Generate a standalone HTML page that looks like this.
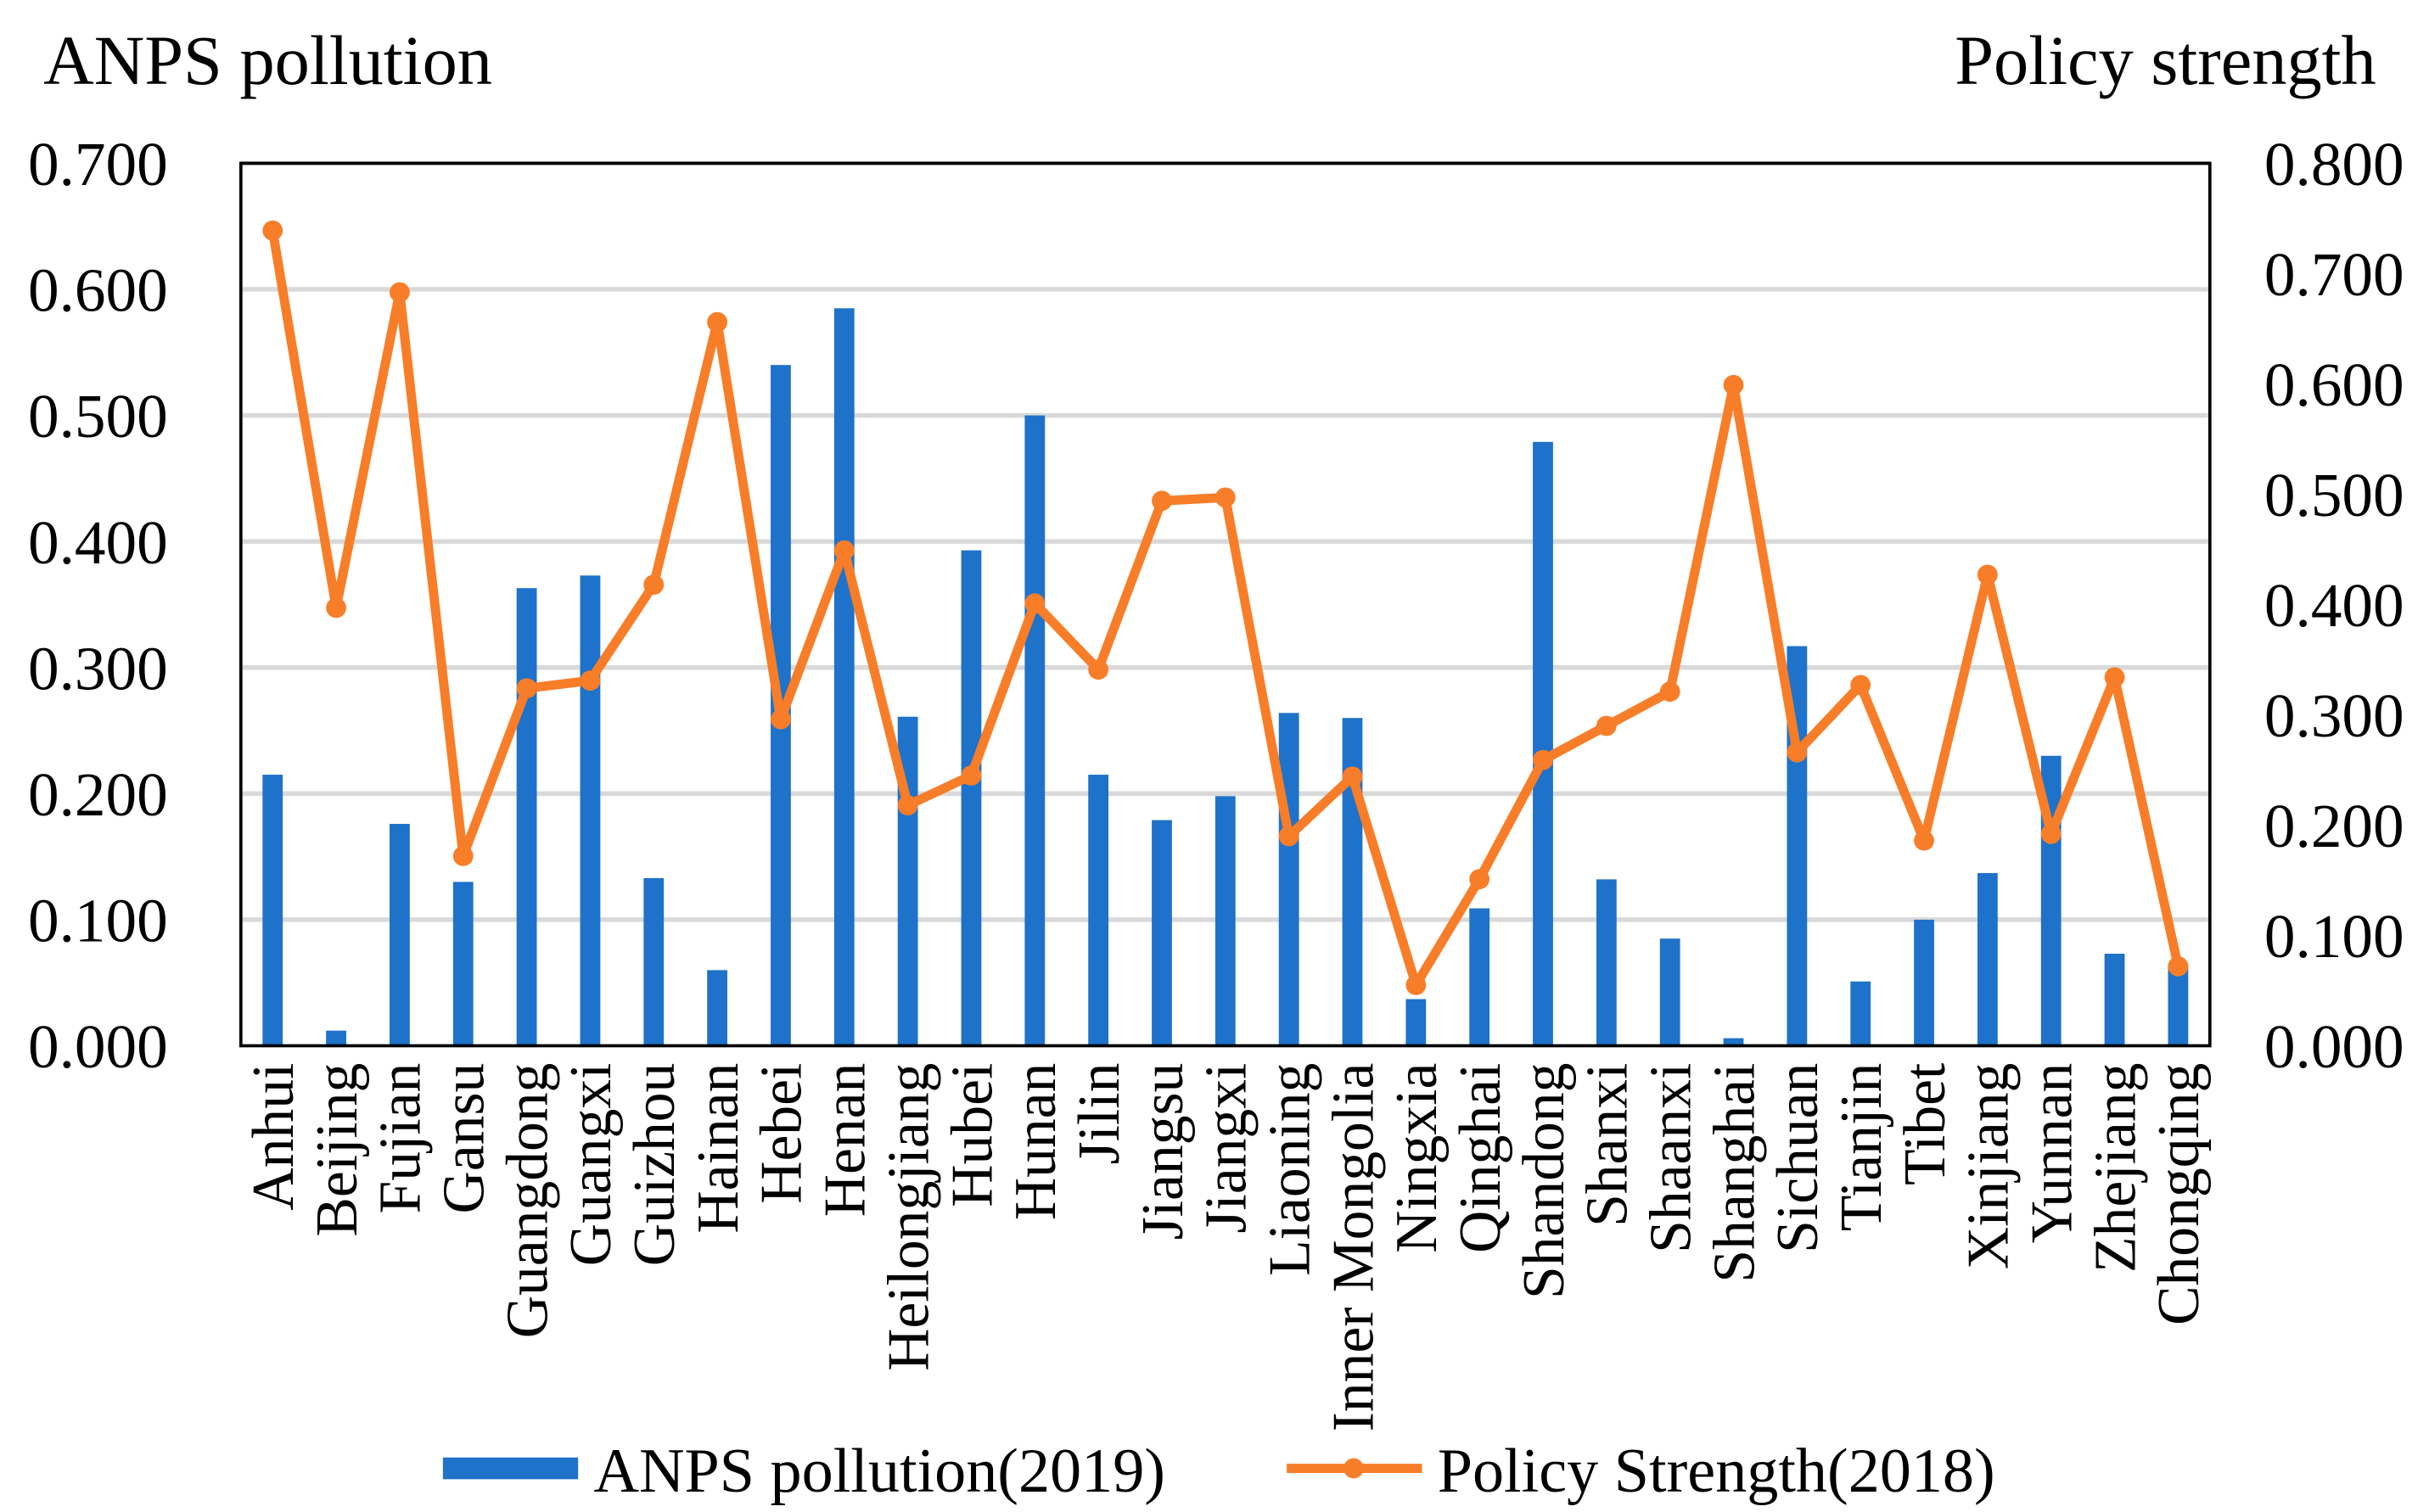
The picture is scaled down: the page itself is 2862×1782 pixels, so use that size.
<!DOCTYPE html>
<html><head><meta charset="utf-8"><style>body{margin:0;background:#fff}svg{display:block}text{font-family:"Liberation Serif",serif;fill:#000}</style></head>
<body>
<svg id="c" width="2862" height="1782" viewBox="0 0 1563 973" xmlns="http://www.w3.org/2000/svg">
<text x="28" y="54" font-size="45">ANPS pollution</text>
<text x="1529" y="54" font-size="45" text-anchor="end">Policy strength</text>
<g id="grid"></g><g id="bars"></g><g id="line"></g><g id="axes"></g>
<g>
<rect x="285" y="938" width="87" height="14" fill="#1f72c9"/>
<text x="382" y="960" font-size="40.5">ANPS pollution(2019)</text>
<line x1="828" y1="945" x2="915" y2="945" stroke="#f87d29" stroke-width="6"/>
<circle cx="871" cy="945" r="6.5" fill="#f87d29"/>
<text x="925" y="960" font-size="40.5">Policy Strength(2018)</text>
</g>
</svg>
<script>
const categories=["Anhui","Beijing","Fujian","Gansu","Guangdong","Guangxi","Guizhou","Hainan","Hebei","Henan","Heilongjiang","Hubei","Hunan","Jilin","Jiangsu","Jiangxi","Liaoning","Inner Mongolia","Ningxia","Qinghai","Shandong","Shanxi","Shaanxi","Shanghai","Sichuan","Tianjin","Tibet","Xinjiang","Yunnan","Zhejiang","Chongqing"];
const pollution=[0.215,0.012,0.176,0.130,0.363,0.373,0.133,0.060,0.540,0.585,0.261,0.393,0.500,0.215,0.179,0.198,0.264,0.260,0.037,0.109,0.479,0.132,0.085,0.006,0.317,0.051,0.100,0.137,0.230,0.073,0.065];
const policy=[0.739,0.397,0.683,0.172,0.324,0.331,0.418,0.656,0.296,0.449,0.218,0.245,0.401,0.341,0.494,0.497,0.190,0.244,0.055,0.151,0.259,0.290,0.321,0.599,0.266,0.327,0.186,0.427,0.192,0.334,0.072];
const leftTicks=["0.000","0.100","0.200","0.300","0.400","0.500","0.600","0.700"];
const rightTicks=["0.000","0.100","0.200","0.300","0.400","0.500","0.600","0.700","0.800"];
const L=155,R=1422,T=105,B=673,NS="http://www.w3.org/2000/svg";
const step=(R-L)/categories.length;
const xc=i=>L+step*(i+0.5);
const yL=v=>B-v/0.7*(B-T);
const yR=v=>B-v/0.8*(B-T);
function mk(tag,attrs,parent){const e=document.createElementNS(NS,tag);for(const k in attrs)e.setAttribute(k,attrs[k]);document.getElementById(parent).appendChild(e);return e;}
leftTicks.forEach((t,i)=>{const y=yL(parseFloat(t));
 if(i>0){const g=mk('line',{x1:L,x2:R,y1:y,y2:y,stroke:'#d9d9d9','stroke-width':3},'grid');
 
 }
 const tx=mk('text',{x:108,y:y+14,'font-size':40,'text-anchor':'end'},'axes');tx.textContent=t;
 
 });
rightTicks.forEach(t=>{const y=yR(parseFloat(t));
 const tx=mk('text',{x:1457,y:y+14,'font-size':40},'axes');tx.textContent=t;
 
 });
pollution.forEach((v,i)=>{const b=mk('rect',{x:xc(i)-6.5,y:yL(v),width:13,height:B-yL(v),fill:'#1f72c9'},'bars');
 
 });
const pl=mk('polyline',{points:policy.map((v,i)=>xc(i)+','+yR(v)).join(' '),fill:'none',stroke:'#f87d29','stroke-width':6,'stroke-linejoin':'round'},'line');


policy.forEach((v,i)=>{const c=mk('circle',{cx:xc(i),cy:yR(v),r:6.5,fill:'#f87d29'},'line');
 
 });
const box=mk('rect',{x:L,y:T,width:R-L,height:B-T,fill:'none',stroke:'#000','stroke-width':2},'axes');


categories.forEach((c,i)=>{const x=xc(i)+13;const tx=mk('text',{x:x,y:684,'font-size':38,'text-anchor':'end',transform:'rotate(-90 '+x+' 684)'},'axes');tx.textContent=c;
 
 });
</script>
</body></html>
